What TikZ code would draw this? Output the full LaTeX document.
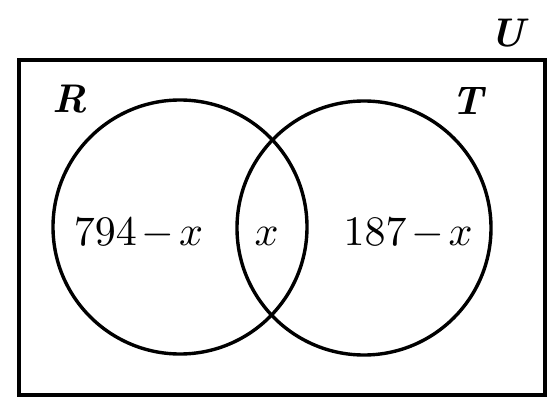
\documentclass[tikz,border=0pt]{standalone}
\tikzset{
  setline/.style={draw=black, line width=3.4pt},
  boxline/.style={draw=black, line width=3.8pt},
  numlabel/.style={inner sep=0pt, anchor=base},
  setname/.style={font=\fontsize{40}{40}\selectfont\bfseries\itshape, inner sep=0pt, anchor=base}
}
\newcommand{\bigmath}[1]{\scalebox{4.2}{$#1$}}
\begin{document}
\begin{tikzpicture}[x=1pt,y=-1pt]
\useasboundingbox (0,0) rectangle (556,398);
\node[boxline, rectangle, minimum width=526pt, minimum height=335pt, inner sep=0pt] (Ubox) at (282,227.5) {};
\node[setline, circle, minimum size=254pt, inner sep=0pt] (Rc) at (180,227) {};
\node[setline, circle, minimum size=254pt, inner sep=0pt] (Tc) at (364,228) {};
\node[setname] (U) at (507,47) {U};
\node[setname] (R) at (70,113) {R};
\node[setname] (T) at (467,115) {T};
\node[numlabel] (a) at (138.5,245) {\bigmath{794\mkern2mu{-}\mkern2mu x}};
\node[numlabel] (b) at (266.5,245) {\bigmath{x}};
\node[numlabel] (c) at (408,245) {\bigmath{187\mkern2mu{-}\mkern2mu x}};
\end{tikzpicture}
\end{document}
